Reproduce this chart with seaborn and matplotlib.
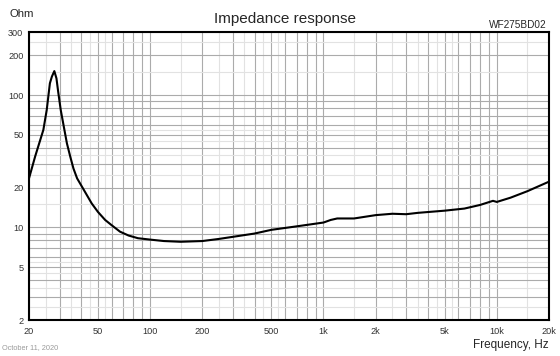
import numpy as np
import pandas as pd
import matplotlib
matplotlib.use("Agg")
import matplotlib.pyplot as plt
import matplotlib.ticker as mticker
import seaborn as sns

# impedance curve (Hz, Ohm)
freq = [20, 21.7, 24.2, 25.3, 26.4, 27.1, 28, 28.8, 29.5, 30.5, 31.9, 33.1,
        34.6, 36.1, 37.9, 41, 46, 50, 55, 60, 67, 75, 85, 100, 120, 150, 200,
        250, 300, 400, 500, 700, 1000, 1100, 1200, 1500, 2000, 2500, 3000,
        3500, 5000, 6500, 8000, 9500, 10000, 12000, 15000, 20000]
ohm = [23.5, 34.4, 54.6, 77, 123, 138, 152, 134, 105, 77, 56, 43.2,
       34.3, 27.9, 23.5, 19.7, 15.2, 13.1, 11.4, 10.4, 9.3, 8.7, 8.3, 8.1,
       7.9, 7.8, 7.9, 8.2, 8.5, 9.0, 9.6, 10.2, 10.9, 11.4, 11.7, 11.7, 12.4,
       12.7, 12.6, 12.9, 13.4, 13.9, 14.8, 15.9, 15.6, 16.8, 18.8, 22.2]

x_labels = [20, 50, 100, 200, 500, 1000, 2000, 5000, 10000, 20000]
y_labels = [2, 5, 10, 20, 50, 100, 200, 300]

df = pd.DataFrame({"Frequency": freq, "Impedance": ohm})

sns.set_style("white")
plt.rcParams['font.family'] = ['Liberation Sans', 'DejaVu Sans']

fig = plt.figure(figsize=(5.6, 3.56), dpi=100)
ax = fig.add_axes([29 / 560, 1 - 320 / 356, 520 / 560, 288 / 356])

sns.lineplot(data=df, x="Frequency", y="Impedance", ax=ax, color="black",
             linewidth=1.5, zorder=5)

ax.set_xscale("log")
ax.set_yscale("log")
ax.set_xlim(20, 20000)
ax.set_ylim(2, 300)

decades = [1, 10, 100, 1000, 10000]
major = [m * d for d in decades for m in range(1, 10)]
minor = [m * d for d in decades for m in (1.5, 2.5, 3.5, 4.5, 5.5)]


def fmt_x(v, pos):
    v = int(round(v))
    if v not in x_labels:
        return ""
    return f"{v // 1000}k" if v >= 1000 else str(v)


def fmt_y(v, pos):
    v = int(round(v))
    return str(v) if v in y_labels else ""


ax.xaxis.set_major_locator(mticker.FixedLocator(major))
ax.xaxis.set_minor_locator(mticker.FixedLocator(minor))
ax.yaxis.set_major_locator(mticker.FixedLocator(major))
ax.yaxis.set_minor_locator(mticker.FixedLocator(minor))
ax.xaxis.set_major_formatter(mticker.FuncFormatter(fmt_x))
ax.yaxis.set_major_formatter(mticker.FuncFormatter(fmt_y))
ax.xaxis.set_minor_formatter(mticker.NullFormatter())
ax.yaxis.set_minor_formatter(mticker.NullFormatter())

ax.grid(which="major", color="#ababab", linewidth=0.8)
ax.grid(which="minor", color="#e2e2e2", linewidth=0.8)
ax.tick_params(which="both", length=0, labelsize=6.6, colors="#333333")
ax.tick_params(axis="x", pad=5)
ax.tick_params(axis="y", pad=4)
ax.set_xlabel("")
ax.set_ylabel("")
for s in ax.spines.values():
    s.set_color("black")
    s.set_linewidth(1.5)

fig.text(285 / 560, 1 - 23.3 / 356, "Impedance response", ha="center",
         va="baseline", fontsize=11)
fig.text(9 / 560, 1 - 17.3 / 356, "Ohm", ha="left", va="baseline", fontsize=8.2)
fig.text(547 / 560, 1 - 28.3 / 356, "WF275BD02", ha="right", va="baseline",
         fontsize=7.2)
fig.text(549 / 560, 1 - 348.3 / 356, "Frequency, Hz", ha="right",
         va="baseline", fontsize=8.5)
fig.text(2 / 560, 1 - 349 / 356, "October 11, 2020", ha="left",
         va="baseline", fontsize=5.3, color="#9a9a9a")

fig.savefig("out.png", dpi=100)
